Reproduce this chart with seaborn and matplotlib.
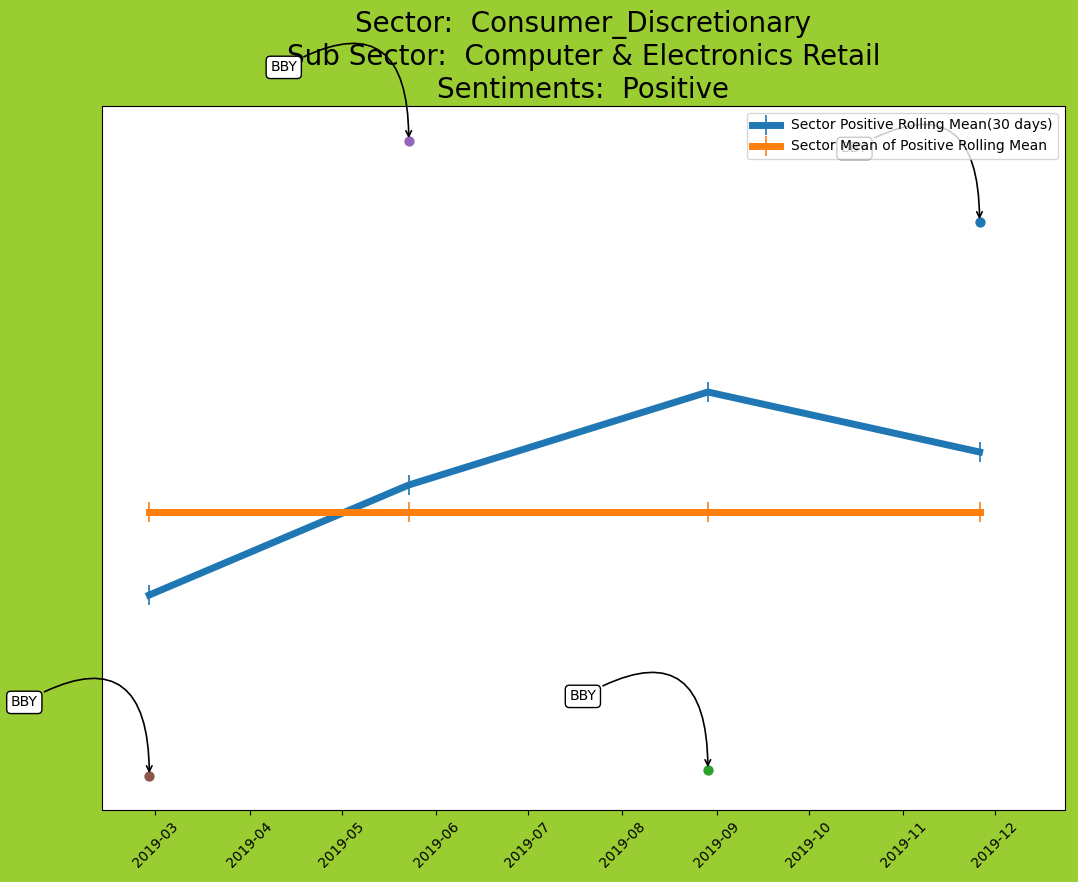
import numpy as np
import pandas as pd
import matplotlib
matplotlib.use('Agg')
import matplotlib.pyplot as plt
import matplotlib.dates as mdates
import seaborn as sns

# data
line_dates = pd.to_datetime(['2019-02-27', '2019-05-23', '2019-08-29', '2019-11-26'])
rolling_mean = [0.0615, 0.0725, 0.0818, 0.0758]
sector_mean = [0.0698, 0.0698, 0.0698, 0.0698]

point_dates = pd.to_datetime(['2019-11-26', '2019-08-29', '2019-05-23', '2019-02-27'])
point_values = [0.0988, 0.0440, 0.1069, 0.0434]
point_colors = ['#1f77b4', '#2ca02c', '#9467bd', '#8c564b']
point_labels = ['BBY', 'BBY', 'BBY', 'BBY']

fig = plt.figure(figsize=(10.78, 8.82), dpi=100, facecolor='yellowgreen')
ax = fig.add_axes([0.09462, 0.08163, 0.89332, 0.79819])

df = pd.DataFrame({'date': line_dates, 'rolling': rolling_mean, 'mean': sector_mean})

# rolling mean line
sns.lineplot(data=df, x='date', y='rolling', ax=ax, color='#1f77b4', linewidth=5,
             marker='|', markersize=14, markeredgecolor='#1f77b4', markeredgewidth=1.2,
             label='Sector Positive Rolling Mean(30 days)')
# sector mean line
sns.lineplot(data=df, x='date', y='mean', ax=ax, color='#ff7f0e', linewidth=5,
             marker='|', markersize=14, markeredgecolor='#ff7f0e', markeredgewidth=1.2,
             label='Sector Mean of Positive Rolling Mean')

# ticker points with annotations
for d, v, c, lab in zip(point_dates, point_values, point_colors, point_labels):
    sns.scatterplot(x=[d], y=[v], color=c, s=55, linewidth=0, ax=ax, zorder=3)
    ax.annotate(lab, xy=(d, v), xytext=(-90, 53), textcoords='offset points',
                ha='center', va='center', fontsize=10, zorder=4,
                bbox=dict(boxstyle='round', fc='w', ec='k'),
                arrowprops=dict(arrowstyle='->', color='k', lw=1.2,
                                connectionstyle='angle3,angleA=30,angleB=-90'))

ax.set_xlim(pd.Timestamp('2019-02-11 12:00'), pd.Timestamp('2019-12-24'))
ax.set_ylim(0.0400, 0.1104)
ax.xaxis.set_major_locator(mdates.MonthLocator())
ax.xaxis.set_major_formatter(mdates.DateFormatter('%Y-%m'))
plt.setp(ax.get_xticklabels(), rotation=45, ha='center')
ax.set_yticks([])
ax.set_xlabel('')
ax.set_ylabel('')
ax.set_title('Sector:  Consumer_Discretionary\nSub Sector:  Computer & Electronics Retail\nSentiments:  Positive',
             fontsize=20)
ax.legend(loc='upper right')

fig.savefig('out.png', dpi=100, facecolor=fig.get_facecolor())
